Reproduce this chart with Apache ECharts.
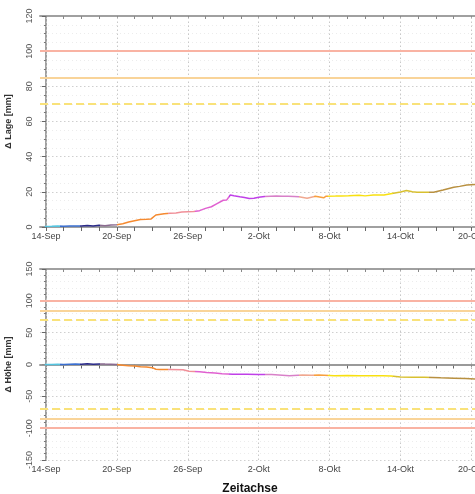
<!DOCTYPE html>
<html><head><meta charset="utf-8">
<script src="https://cdn.jsdelivr.net/npm/echarts@6/dist/echarts.min.js"></script>
<style>html,body{margin:0;padding:0;background:#fff}#c{width:475px;height:494px}</style>
</head><body><div id="c"></div>
<script>
// x values are days after 14-Sep
const majorDays = [0, 6, 12, 18, 24, 30, 36];
const tickLabels = ['14-Sep', '20-Sep', '26-Sep', '2-Okt', '8-Okt', '14-Okt', '20-Okt'];
const minorDays = [0,1.5,3,4.5,6,7.5,9,10.5,12,13.5,15,16.5,18,19.5,21,22.5,24,25.5,27,28.5,30,31.5,33,34.5,36];

const daysLage = [-0.1,0.5,1,1.5,2,2.5,3,3.5,4,4.5,5,5.5,6,6.5,7,7.5,8,8.5,8.9,9.3,10,10.5,11,11.5,12,12.5,13,13.5,14,14.4,15,15.3,15.6,15.9,16.4,16.8,17.2,17.6,18,18.5,19,19.5,20,20.5,21,21.4,22.1,22.8,23.5,23.7,24.5,25,25.6,26.5,27,27.7,28.6,29.4,30,30.5,31,31.4,32,32.8,33.6,34.5,35,35.6,36.3];
const lage = [0.3,0.4,0.5,0.4,0.5,0.6,0.5,0.8,0.6,1.0,0.7,1.2,1.3,1.8,2.8,3.6,4.3,4.4,4.6,6.8,7.6,7.8,8.0,8.5,8.7,8.8,9.3,10.6,11.5,13.0,15.2,15.4,18.2,17.8,17.2,16.8,16.2,16.3,16.9,17.3,17.5,17.6,17.5,17.5,17.4,17.2,16.3,17.5,16.6,17.5,17.6,17.7,17.8,18.0,17.7,18.2,18.2,19.2,19.9,20.7,20.0,19.7,19.7,19.8,21.0,22.6,23.1,23.9,24.1];

const daysHoehe = [-0.1,0.5,1,1.5,2,2.5,3,3.5,4,4.5,5,5.5,6,6.5,7,7.5,8,8.5,9,9.3,9.6,10.5,11.6,12.1,13,13.6,14.3,14.9,15.8,17,18,19.1,20,20.6,21.7,22.5,23.1,24.4,25.5,26.5,27.5,28.5,29.2,30,31,32,33.4,34.5,35.5,36.3];
const hoehe = [0,0,0.3,0,0.5,0.8,0.3,1.2,0.5,0.8,0.6,0.5,0,-1,-2,-2.5,-3.5,-3.8,-5,-7.5,-8,-8,-8.3,-10.5,-11.5,-12.5,-13.5,-14.5,-15.5,-15.5,-15.6,-15.8,-16.8,-17.5,-16.5,-16.8,-16.5,-17.5,-17.2,-17.5,-17.6,-17.8,-18,-19.5,-20,-20,-21,-21.5,-22,-22.7];

const colorBreaks = [-1,1.2,2.9,4.55,6,10.3,12.6,15.5,18.5,21.4,22.7,23.9,29.4,32.4,40];
const segColors = ['#55c4e0','#3a6fd0','#2a2a8a','#8a6a90','#f58a30','#f08f98','#e060d0','#c040e8','#d880c8','#f0a890','#f8a040','#f8e010','#d8c030','#b89040'];

const limitsLage = [100, 85, 70];
const limitsHoehe = [100, 85, 70, -70, -85, -100];
const limitStyle = {100: ['#f9b3a3','solid'], 85: ['#f9d499','solid'], 70: ['#f9e27a','dashed']};

const gridDefs = [
  {left: 40, right: 0, top: 16, bottom: 267, outerBoundsMode: 'none', containLabel: false},
  {left: 40, right: 0, top: 269, bottom: 34, outerBoundsMode: 'none', containLabel: false}
];
const X_MIN = -0.5, X_MAX = 36.3;
const axisGray = '#a0a0a0';

function xAxesFor(gi) {
  return [
    { type: 'value', gridIndex: gi, min: X_MIN, max: X_MAX, position: 'bottom',
      axisLine: {show: true, lineStyle: {color: axisGray, width: 2}},
      axisTick: {show: true, customValues: minorDays, length: 4, lineStyle: {color: '#666'}},
      axisLabel: {show: true, customValues: majorDays, fontSize: 9, color: '#444', margin: 5, fontFamily: 'Liberation Sans',
        hideOverlap: false, formatter: v => tickLabels[majorDays.indexOf(v)] || ''},
      splitLine: {show: false} },
    { type: 'value', gridIndex: gi, min: X_MIN, max: X_MAX, position: 'top',
      axisLine: {show: true, lineStyle: {color: axisGray, width: 2}},
      axisTick: {show: true, inside: true, customValues: minorDays, length: 3, lineStyle: {color: '#888'}},
      axisLabel: {show: false}, splitLine: {show: false} }
  ];
}

const visualMaps = [0, 1].map(si => ({
  type: 'piecewise', show: false, dimension: 0, seriesIndex: si,
  pieces: segColors.map((c, i) => ({gte: colorBreaks[i], lt: colorBreaks[i+1], color: c}))
}));

function limitLines(limits, withZero) {
  const d = limits.map(v => {
    const s = limitStyle[Math.abs(v)];
    return {yAxis: v, lineStyle: {color: s[0], type: s[1], width: 2}};
  });
  if (withZero) d.push({yAxis: 0, lineStyle: {color: '#999', type: 'solid', width: 1.5}});
  return d;
}
function vGrid() {
  return majorDays.map(v => ({xAxis: v, lineStyle: {color: '#c8c8c8', type: [1.5, 2.5], width: 1}}));
}

const option = {
  animation: false,
  backgroundColor: '#fff',
  grid: gridDefs,
  xAxis: [...xAxesFor(0), ...xAxesFor(1)],
  yAxis: [
    { type: 'value', gridIndex: 0, min: 0, max: 120, interval: 20,
      name: 'Δ Lage [mm]', nameLocation: 'middle', nameGap: 27,
      nameTextStyle: {fontSize: 9, fontWeight: 'bold', color: '#333', fontFamily: 'Liberation Sans'},
      axisLine: {show: true, lineStyle: {color: axisGray, width: 2}},
      axisTick: {show: true, length: 4, lineStyle: {color: '#666'}},
      minorTick: {show: true, splitNumber: 4, length: 2, lineStyle: {color: '#777'}},
      axisLabel: {rotate: 90, fontSize: 9, color: '#555', margin: 6, fontFamily: 'Liberation Sans'},
      splitLine: {show: true, lineStyle: {color: '#cfcfcf', type: [1.5, 2.5]}},
      minorSplitLine: {show: true, lineStyle: {color: '#ececec', type: [1, 3]}} },
    { type: 'value', gridIndex: 1, min: -150, max: 150, interval: 50,
      name: 'Δ Höhe [mm]', nameLocation: 'middle', nameGap: 27,
      nameTextStyle: {fontSize: 9, fontWeight: 'bold', color: '#333', fontFamily: 'Liberation Sans'},
      axisLine: {show: true, lineStyle: {color: axisGray, width: 2}},
      axisTick: {show: true, length: 4, lineStyle: {color: '#666'}},
      minorTick: {show: true, splitNumber: 5, length: 2, lineStyle: {color: '#777'}},
      axisLabel: {rotate: 90, fontSize: 9, color: '#555', margin: 6, fontFamily: 'Liberation Sans'},
      splitLine: {show: true, lineStyle: {color: '#cfcfcf', type: [1.5, 2.5]}},
      minorSplitLine: {show: true, lineStyle: {color: '#ececec', type: [1, 3]}} }
  ],
  visualMap: visualMaps,
  series: [
    { type: 'line', xAxisIndex: 0, yAxisIndex: 0, data: daysLage.map((d, i) => [d, lage[i]]),
      showSymbol: false, lineStyle: {width: 1.5}, z: 5,
      markLine: {silent: true, symbol: 'none', label: {show: false}, data: [...vGrid(), ...limitLines(limitsLage, false)]} },
    { type: 'line', xAxisIndex: 2, yAxisIndex: 1, data: daysHoehe.map((d, i) => [d, hoehe[i]]),
      showSymbol: false, lineStyle: {width: 1.5}, z: 5,
      markLine: {silent: true, symbol: 'none', label: {show: false}, data: [...vGrid(), ...limitLines(limitsHoehe, true)]} }
  ],
  graphic: [{
    type: 'text', x: 250, y: 489,
    style: {text: 'Zeitachse', fontSize: 12, fontWeight: 'bold', fill: '#111', fontFamily: 'Liberation Sans', align: 'center', verticalAlign: 'middle'}
  }]
};
const chart = echarts.init(document.getElementById('c'), null, {renderer: 'canvas'});
chart.setOption(option);
</script></body></html>
